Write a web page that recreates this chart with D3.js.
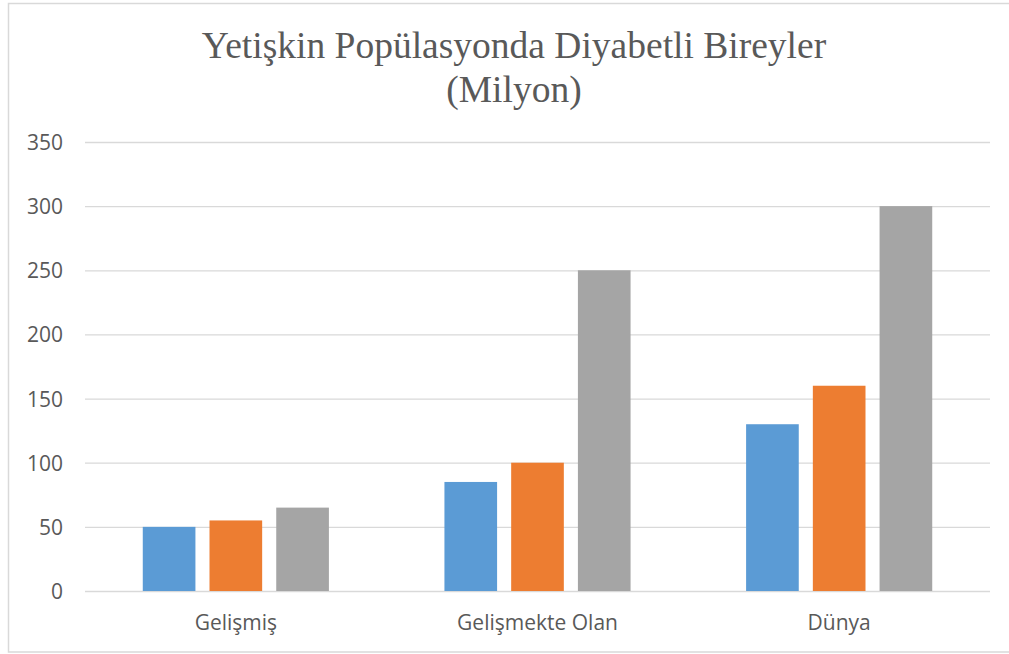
<!DOCTYPE html>
<html>
<head>
<meta charset="utf-8">
<script src="https://cdn.jsdelivr.net/npm/d3@7"></script>
<style>
  body { margin: 0; background: #fff; }
  .grid line { stroke: #d9d9d9; stroke-width: 1.3; }
  .grid path { display: none; }
  .tick text { fill: #595959; font-family: "Open Sans", sans-serif; font-size: 21px; }
</style>
</head>
<body>
<div id="chart"></div>
<script>
'use strict';

const categories = ['Gelişmiş', 'Gelişmekte Olan', 'Dünya']
const seriesNames = ['s1', 's2', 's3']
const s1 = [50, 85, 130]
const s2 = [55, 100, 160]
const s3 = [65, 250, 300]
const yTicks = [0, 50, 100, 150, 200, 250, 300, 350]
const COLORS = ['#5b9bd5', '#ed7d31', '#a5a5a5']
const titleLines = ['Yetişkin Popülasyonda Diyabetli Bireyler', '(Milyon)']

const W = 1009, H = 654
const m = { top: 142, right: 19, bottom: 63, left: 85 }
const w = W - m.left - m.right
const h = H - m.top - m.bottom

const svg = d3.select('#chart').append('svg')
  .attr('width', W).attr('height', H)

// chart frame
svg.append('rect')
  .attr('x', 8.5).attr('y', 3.5)
  .attr('width', W + 10).attr('height', 648.5)
  .attr('fill', 'none').attr('stroke', '#d9d9d9').attr('stroke-width', 1.5)

const title = svg.append('text')
  .attr('text-anchor', 'middle')
  .attr('font-family', '"Liberation Serif", "Times New Roman", serif')
  .attr('font-size', 37.5).attr('fill', '#595959')
title.selectAll('tspan').data(titleLines).enter().append('tspan')
  .attr('x', 514).attr('y', (d, i) => 58 + i * 44).text(d => d)

const g = svg.append('g').attr('transform', 'translate(' + m.left + ',' + m.top + ')')

const y = d3.scaleLinear().domain([0, 350]).range([h, 0])
const x0 = d3.scaleBand().domain(categories).range([0, w]).paddingInner(0.383).paddingOuter(0.1915)
const x1 = d3.scaleBand().domain(seriesNames).range([0, x0.bandwidth()]).paddingInner(0.211)

g.append('g').attr('class', 'grid')
  .call(d3.axisLeft(y).tickValues(yTicks).tickSize(-w).tickPadding(22))
  .call(s => s.selectAll('.tick text').attr('dy', '0.36em'))

const rows = categories.map((c, i) => ({ cat: c, vals: [s1[i], s2[i], s3[i]] }))

g.selectAll('.group').data(rows).enter().append('g')
    .attr('class', 'group')
    .attr('transform', d => 'translate(' + x0(d.cat) + ',0)')
  .selectAll('rect').data(d => d.vals.map((v, j) => ({ key: seriesNames[j], v: v, j: j }))).enter().append('rect')
    .attr('x', d => x1(d.key))
    .attr('y', d => y(d.v))
    .attr('width', x1.bandwidth())
    .attr('height', d => h - y(d.v))
    .attr('fill', d => COLORS[d.j])

const xAxis = g.append('g').attr('class', 'grid')
  .attr('transform', 'translate(0,' + h + ')')
  .call(d3.axisBottom(x0).tickSize(0).tickPadding(39))
xAxis.selectAll('.tick text').attr('dy', '0')
</script>
</body>
</html>
